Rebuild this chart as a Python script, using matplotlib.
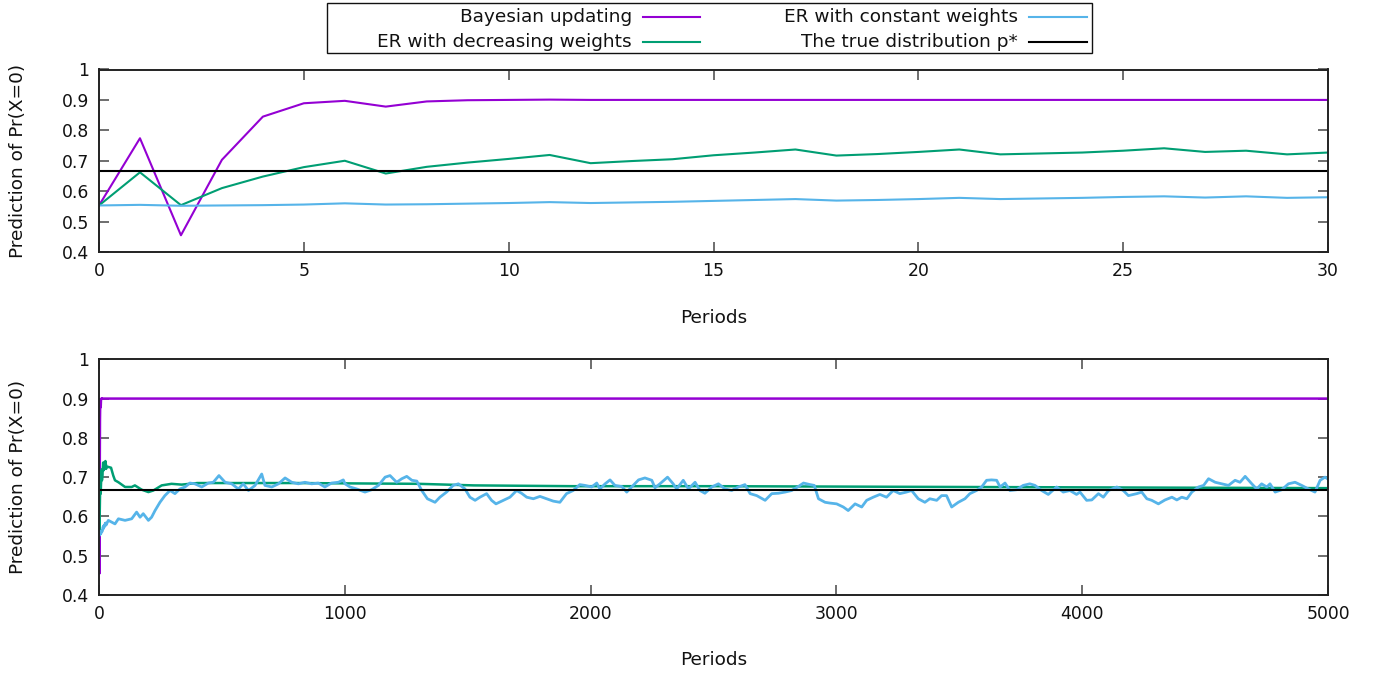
import matplotlib
matplotlib.use('Agg')
import matplotlib.pyplot as plt
from matplotlib.lines import Line2D
from matplotlib.patches import Rectangle

# ---------------- data ----------------
series_names = ["Bayesian updating", "ER with decreasing weights",
                "ER with constant weights", "The true distribution p*"]
series_colors = ["#9400d3", "#009e73", "#56b4e9", "#000000"]

true_p = 2.0 / 3.0

# first 31 periods (top panel)
periods_short = [0, 1, 2, 3, 4, 5, 6, 7, 8, 9, 10, 11, 12, 13, 14, 15,
                 16, 17, 18, 19, 20, 21, 22, 23, 24, 25, 26, 27, 28, 29, 30]
bayes_short = [0.553, 0.774, 0.455, 0.703, 0.845, 0.889, 0.897, 0.878, 0.895, 0.899,
               0.900, 0.901, 0.900, 0.900, 0.900, 0.900, 0.900, 0.900, 0.900, 0.900,
               0.900, 0.900, 0.900, 0.900, 0.900, 0.900, 0.900, 0.900, 0.900, 0.900, 0.900]
decr_short = [0.553, 0.662, 0.554, 0.610, 0.648, 0.679, 0.700, 0.658, 0.680, 0.694,
              0.706, 0.719, 0.692, 0.699, 0.705, 0.718, 0.727, 0.737, 0.717, 0.722,
              0.729, 0.737, 0.721, 0.724, 0.727, 0.733, 0.741, 0.729, 0.733, 0.721, 0.727]
const_short = [0.553, 0.555, 0.552, 0.553, 0.554, 0.556, 0.560, 0.556, 0.557, 0.559,
               0.561, 0.564, 0.561, 0.563, 0.565, 0.568, 0.571, 0.574, 0.569, 0.571,
               0.574, 0.578, 0.574, 0.576, 0.578, 0.581, 0.583, 0.579, 0.583, 0.578, 0.580]

# later periods (bottom panel continuation)
bayes_long_periods = [5000]
bayes_long = [0.900]

decr_long_periods = [38, 49, 58, 65, 79, 106, 133, 146, 174, 201, 221, 255, 295, 336,
                     400, 800, 1300, 1525, 1929, 2500, 3000, 3500, 4000, 4500, 5000]
decr_long = [0.726, 0.724, 0.704, 0.692, 0.687, 0.675, 0.675, 0.679, 0.668, 0.662,
             0.666, 0.679, 0.683, 0.681, 0.685, 0.685, 0.683, 0.679, 0.677, 0.677,
             0.676, 0.675, 0.674, 0.673, 0.672]

const_long_periods = [
    38, 65, 79, 106, 133, 153, 167, 180, 201, 214, 228, 248, 268, 289, 309, 329, 350,
    370, 390, 418, 445, 465, 488, 513, 540, 567, 587, 608, 635, 662, 675, 703, 730,
    757, 784, 811, 838, 865, 892, 919, 946, 974, 994, 1001, 1021, 1048, 1082, 1109,
    1137, 1164, 1184, 1211, 1232, 1252, 1273, 1293, 1313, 1336, 1367, 1387, 1414,
    1441, 1462, 1489, 1509, 1530, 1550, 1577, 1597, 1615, 1645, 1672, 1699, 1719,
    1740, 1767, 1794, 1821, 1848, 1875, 1902, 1929, 1956, 1977, 2004, 2025, 2038,
    2059, 2079, 2099, 2127, 2147, 2167, 2195, 2221, 2249, 2262, 2282, 2313, 2336,
    2350, 2377, 2398, 2425, 2445, 2465, 2493, 2520, 2547, 2574, 2601, 2628, 2649,
    2676, 2710, 2737, 2764, 2791, 2818, 2845, 2866, 2893, 2910, 2927, 2954, 2974,
    3001, 3028, 3048, 3076, 3103, 3123, 3150, 3177, 3204, 3231, 3258, 3285, 3306,
    3333, 3360, 3380, 3408, 3428, 3448, 3469, 3496, 3523, 3543, 3570, 3591, 3611,
    3631, 3652, 3666, 3686, 3706, 3733, 3760, 3787, 3808, 3835, 3862, 3896, 3923,
    3950, 3977, 3991, 4018, 4039, 4066, 4086, 4107, 4141, 4167, 4188, 4222, 4242,
    4263, 4283, 4310, 4337, 4365, 4385, 4405, 4426, 4446, 4473, 4494, 4514, 4541,
    4568, 4595, 4622, 4642, 4663, 4690, 4710, 4730, 4751, 4764, 4785, 4812, 4839,
    4866, 4893, 4920, 4947, 4968, 4988, 5000]
const_long = [
    0.590, 0.581, 0.594, 0.590, 0.594, 0.611, 0.598, 0.607, 0.590, 0.598, 0.615, 0.636,
    0.653, 0.666, 0.658, 0.670, 0.675, 0.685, 0.683, 0.675, 0.685, 0.687, 0.704, 0.687,
    0.683, 0.670, 0.683, 0.666, 0.679, 0.708, 0.679, 0.675, 0.683, 0.698, 0.687, 0.683,
    0.687, 0.683, 0.685, 0.675, 0.685, 0.687, 0.693, 0.683, 0.675, 0.670, 0.662, 0.668,
    0.679, 0.700, 0.704, 0.687, 0.696, 0.702, 0.692, 0.690, 0.666, 0.645, 0.636, 0.649,
    0.662, 0.679, 0.683, 0.670, 0.649, 0.641, 0.649, 0.658, 0.641, 0.632, 0.641, 0.649,
    0.666, 0.659, 0.649, 0.645, 0.651, 0.645, 0.639, 0.636, 0.658, 0.666, 0.681, 0.679,
    0.675, 0.685, 0.670, 0.683, 0.693, 0.679, 0.676, 0.662, 0.675, 0.693, 0.698, 0.692,
    0.673, 0.683, 0.700, 0.683, 0.670, 0.692, 0.670, 0.687, 0.666, 0.659, 0.675, 0.683,
    0.670, 0.666, 0.675, 0.681, 0.658, 0.653, 0.641, 0.658, 0.659, 0.662, 0.666, 0.676,
    0.685, 0.681, 0.679, 0.645, 0.636, 0.634, 0.632, 0.624, 0.615, 0.632, 0.624, 0.641,
    0.649, 0.656, 0.649, 0.666, 0.658, 0.662, 0.666, 0.645, 0.636, 0.645, 0.641, 0.653,
    0.653, 0.624, 0.636, 0.645, 0.658, 0.666, 0.675, 0.692, 0.693, 0.692, 0.675, 0.685,
    0.666, 0.668, 0.679, 0.683, 0.679, 0.666, 0.656, 0.675, 0.662, 0.666, 0.656, 0.662,
    0.641, 0.642, 0.658, 0.649, 0.666, 0.675, 0.666, 0.653, 0.658, 0.662, 0.645, 0.641,
    0.632, 0.642, 0.649, 0.642, 0.649, 0.645, 0.662, 0.675, 0.679, 0.696, 0.687, 0.683,
    0.679, 0.692, 0.687, 0.702, 0.683, 0.670, 0.683, 0.675, 0.683, 0.662, 0.668, 0.683,
    0.687, 0.679, 0.670, 0.662, 0.692, 0.700, 0.695]

top_xticks = [0, 5, 10, 15, 20, 25, 30]
bottom_xticks = [0, 1000, 2000, 3000, 4000, 5000]
yticks = [0.4, 0.5, 0.6, 0.7, 0.8, 0.9, 1.0]
ytick_labels = ["0.4", "0.5", "0.6", "0.7", "0.8", "0.9", "1"]
ylabel_text = "Prediction of Pr(X=0)"
xlabel_text = "Periods"

# ---------------- figure ----------------
plt.rcParams['font.family'] = ['DejaVu Sans']
W, H = 1384, 677
fig = plt.figure(figsize=(W / 100, H / 100), dpi=100)


def px_rect(l, t, r, b):
    return [l / W, 1 - b / H, (r - l) / W, (b - t) / H]


ax1 = fig.add_axes(px_rect(99, 69.5, 1328, 252))
ax2 = fig.add_axes(px_rect(99, 359.3, 1328, 595))

TICK_FS = 12.4
LAB_FS = 13.3
LEG_FS = 13.3


def style(ax, xticks, xlim, xlab_y):
    ax.set_xlim(*xlim)
    ax.set_ylim(0.4, 1.0)
    ax.set_xticks(xticks)
    ax.set_xticklabels([str(t) for t in xticks])
    ax.set_yticks(yticks)
    ax.set_yticklabels(ytick_labels)
    ax.tick_params(direction='in', length=7, width=1.2, color='#555555',
                   top=True, right=True, labelsize=TICK_FS, pad=7, labelcolor='#111111')
    for s in ax.spines.values():
        s.set_linewidth(1.4)
        s.set_color('#222222')
    ax.set_xlabel(xlabel_text, fontsize=LAB_FS, va='center', color='#111111')
    ax.xaxis.set_label_coords(0.5, xlab_y)
    ax.set_ylabel(ylabel_text, fontsize=LAB_FS, va='center', color='#111111')
    ax.yaxis.set_label_coords(-0.066, 0.5)


# top panel
ax1.plot(periods_short, bayes_short, color=series_colors[0], lw=1.5)
ax1.plot(periods_short, decr_short, color=series_colors[1], lw=1.5)
ax1.plot(periods_short, const_short, color=series_colors[2], lw=1.5)
ax1.axhline(true_p, color=series_colors[3], lw=1.5)
style(ax1, top_xticks, (0, 30), -0.36)

# bottom panel
ax2.plot(periods_short + bayes_long_periods, bayes_short + bayes_long,
         color=series_colors[0], lw=1.8)
ax2.plot(periods_short + decr_long_periods, decr_short + decr_long,
         color=series_colors[1], lw=1.8)
ax2.plot(periods_short + const_long_periods, const_short + const_long,
         color=series_colors[2], lw=2.0)
ax2.axhline(true_p, color=series_colors[3], lw=1.5)
style(ax2, bottom_xticks, (0, 5000), -0.276)

# legend box (gnuplot-style: text right-aligned, sample after text)
fig.add_artist(Rectangle((327 / W, 1 - 53 / H), (1092 - 327) / W, 50 / H,
                         transform=fig.transFigure, fill=False,
                         edgecolor='#111111', lw=1.0))
entries = [(0, 632, 643, 700, 17), (1, 632, 643, 700, 42),
           (2, 1018, 1029, 1087, 17), (3, 1018, 1029, 1087, 42)]
for idx, tx, l0, l1, yy in entries:
    fig.text(tx / W, 1 - yy / H, series_names[idx], ha='right', va='center',
             fontsize=LEG_FS, color='#111111')
    fig.add_artist(Line2D([l0 / W, l1 / W], [1 - yy / H, 1 - yy / H],
                          transform=fig.transFigure, color=series_colors[idx], lw=1.5))

fig.savefig('out.png', dpi=100)
